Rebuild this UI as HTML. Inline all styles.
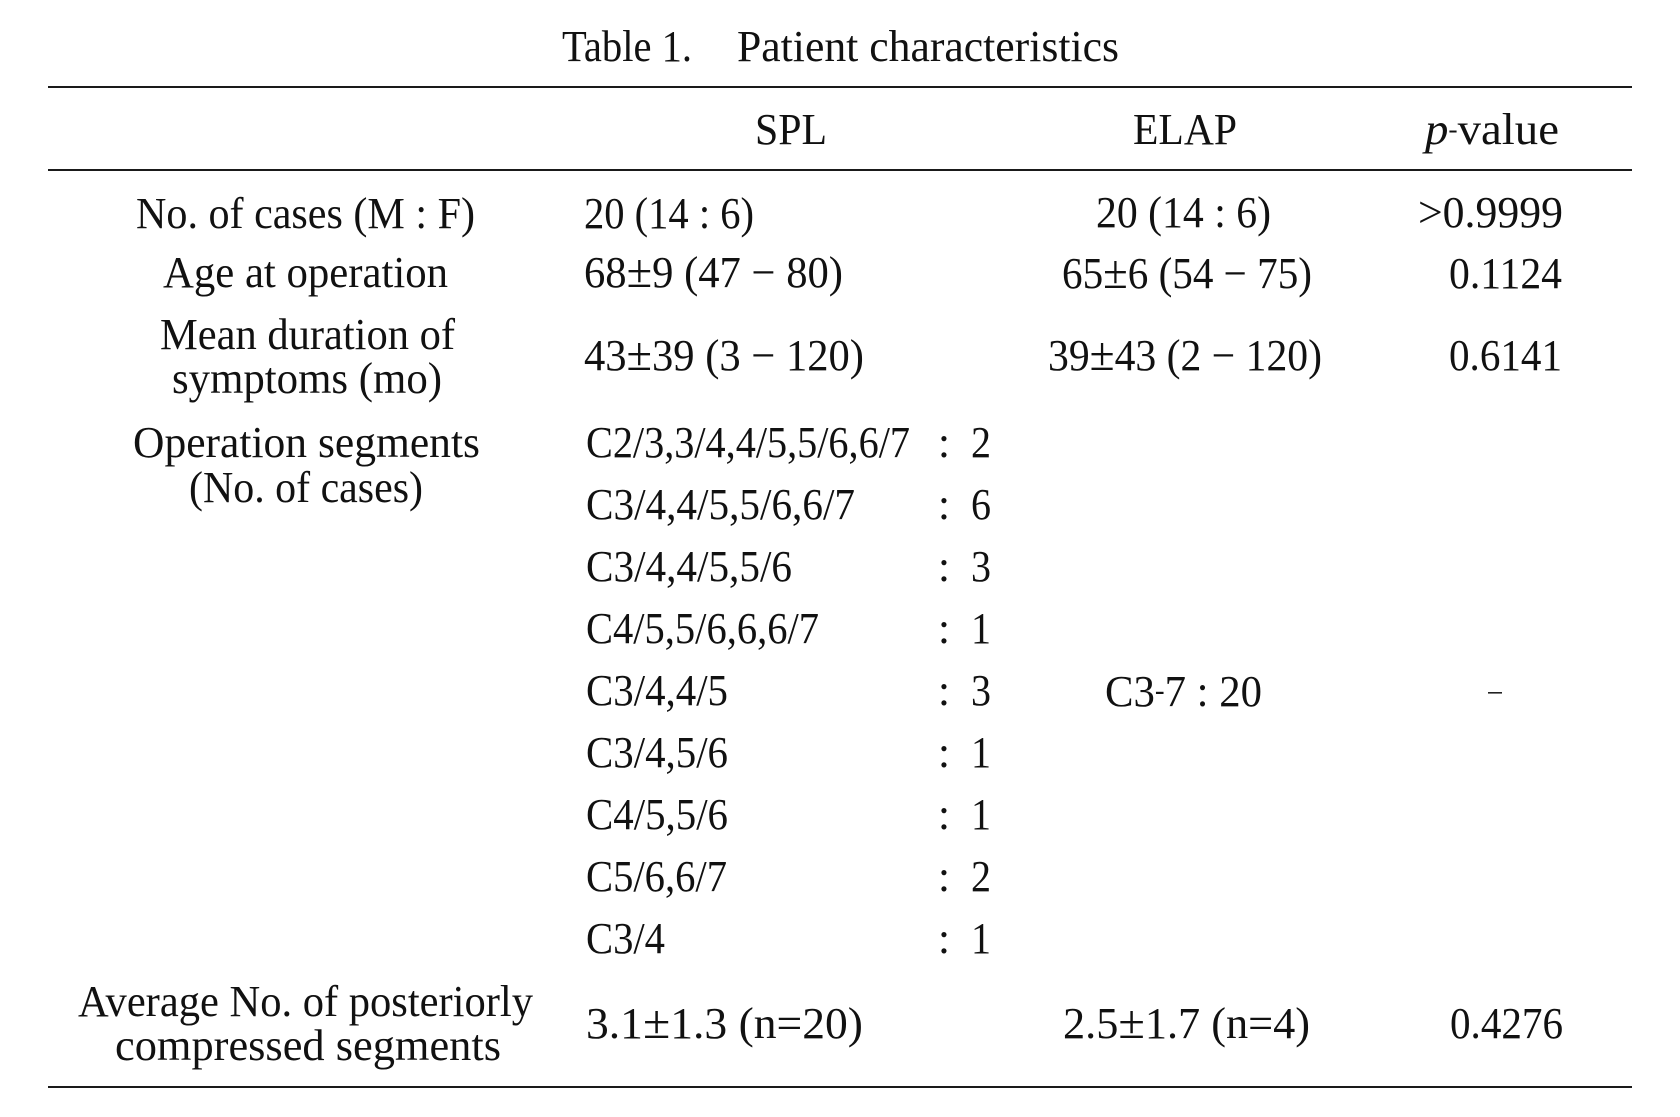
<!DOCTYPE html>
<html>
<head>
<meta charset="utf-8">
<style>
html,body{margin:0;padding:0;background:#fff;}
body{width:1680px;height:1117px;overflow:hidden;}
svg{display:block;}
text{font-family:"Liberation Serif","DejaVu Serif",serif;font-size:44px;fill:#111;}
.pm{font-size:48px;}
</style>
</head>
<body>
<svg width="1680" height="1117" viewBox="0 0 1680 1117" xmlns="http://www.w3.org/2000/svg">
<rect x="0" y="0" width="1680" height="1117" fill="#fff"/>

<!-- Title -->
<text x="562" y="61" textLength="130" lengthAdjust="spacingAndGlyphs">Table 1.</text>
<text x="737" y="61" textLength="382" lengthAdjust="spacingAndGlyphs">Patient characteristics</text>

<!-- Rules -->
<rect x="48" y="86" width="1584" height="2" fill="#1a1a1a"/>
<rect x="48" y="169" width="1584" height="2" fill="#1a1a1a"/>
<rect x="48" y="1086" width="1584" height="2" fill="#1a1a1a"/>

<!-- Header -->
<text x="755" y="144" textLength="72" lengthAdjust="spacingAndGlyphs">SPL</text>
<text x="1133" y="144" textLength="104" lengthAdjust="spacingAndGlyphs">ELAP</text>
<text x="1425" y="144" textLength="134" lengthAdjust="spacingAndGlyphs"><tspan font-style="italic">p</tspan><tspan font-size="26" dy="-6">‐</tspan><tspan dy="6">value</tspan></text>

<!-- Column 1 labels -->
<text x="136" y="228" textLength="339" lengthAdjust="spacingAndGlyphs">No. of cases (M : F)</text>
<text x="163" y="287" textLength="285" lengthAdjust="spacingAndGlyphs">Age at operation</text>
<text x="160" y="349" textLength="295" lengthAdjust="spacingAndGlyphs">Mean duration of</text>
<text x="172" y="393" textLength="270" lengthAdjust="spacingAndGlyphs">symptoms (mo)</text>
<text x="133" y="457" textLength="347" lengthAdjust="spacingAndGlyphs">Operation segments</text>
<text x="189" y="502" textLength="234" lengthAdjust="spacingAndGlyphs">(No. of cases)</text>
<text x="78" y="1016" textLength="455" lengthAdjust="spacingAndGlyphs">Average No. of posteriorly</text>
<text x="115" y="1060" textLength="386" lengthAdjust="spacingAndGlyphs">compressed segments</text>

<!-- Column 2 (SPL) -->
<text x="584" y="228" textLength="170" lengthAdjust="spacingAndGlyphs">20 (14 : 6)</text>
<text x="584" y="287" textLength="259" lengthAdjust="spacingAndGlyphs">68<tspan class="pm">±</tspan>9 (47 − 80)</text>
<text x="584" y="370" textLength="280" lengthAdjust="spacingAndGlyphs">43<tspan class="pm">±</tspan>39 (3 − 120)</text>

<text x="586" y="457" textLength="324" lengthAdjust="spacingAndGlyphs">C2/3,3/4,4/5,5/6,6/7</text>
<text x="586" y="519" textLength="269" lengthAdjust="spacingAndGlyphs">C3/4,4/5,5/6,6/7</text>
<text x="586" y="581" textLength="206" lengthAdjust="spacingAndGlyphs">C3/4,4/5,5/6</text>
<text x="586" y="643" textLength="233" lengthAdjust="spacingAndGlyphs">C4/5,5/6,6,6/7</text>
<text x="586" y="705" textLength="142" lengthAdjust="spacingAndGlyphs">C3/4,4/5</text>
<text x="586" y="767" textLength="142" lengthAdjust="spacingAndGlyphs">C3/4,5/6</text>
<text x="586" y="829" textLength="142" lengthAdjust="spacingAndGlyphs">C4/5,5/6</text>
<text x="586" y="891" textLength="141" lengthAdjust="spacingAndGlyphs">C5/6,6/7</text>
<text x="586" y="953" textLength="79" lengthAdjust="spacingAndGlyphs">C3/4</text>

<text x="944" y="457" text-anchor="middle">:</text>
<text x="944" y="519" text-anchor="middle">:</text>
<text x="944" y="581" text-anchor="middle">:</text>
<text x="944" y="643" text-anchor="middle">:</text>
<text x="944" y="705" text-anchor="middle">:</text>
<text x="944" y="767" text-anchor="middle">:</text>
<text x="944" y="829" text-anchor="middle">:</text>
<text x="944" y="891" text-anchor="middle">:</text>
<text x="944" y="953" text-anchor="middle">:</text>

<text x="971" y="457" textLength="20" lengthAdjust="spacingAndGlyphs">2</text>
<text x="971" y="519" textLength="20" lengthAdjust="spacingAndGlyphs">6</text>
<text x="971" y="581" textLength="20" lengthAdjust="spacingAndGlyphs">3</text>
<text x="971" y="643" textLength="20" lengthAdjust="spacingAndGlyphs">1</text>
<text x="971" y="705" textLength="20" lengthAdjust="spacingAndGlyphs">3</text>
<text x="971" y="767" textLength="20" lengthAdjust="spacingAndGlyphs">1</text>
<text x="971" y="829" textLength="20" lengthAdjust="spacingAndGlyphs">1</text>
<text x="971" y="891" textLength="20" lengthAdjust="spacingAndGlyphs">2</text>
<text x="971" y="953" textLength="20" lengthAdjust="spacingAndGlyphs">1</text>

<text x="586" y="1038" textLength="277" lengthAdjust="spacingAndGlyphs">3.1<tspan class="pm">±</tspan>1.3 (n=20)</text>

<!-- Column 3 (ELAP) -->
<text x="1096" y="227" textLength="175" lengthAdjust="spacingAndGlyphs">20 (14 : 6)</text>
<text x="1062" y="288" textLength="250" lengthAdjust="spacingAndGlyphs">65<tspan class="pm">±</tspan>6 (54 − 75)</text>
<text x="1048" y="370" textLength="274" lengthAdjust="spacingAndGlyphs">39<tspan class="pm">±</tspan>43 (2 − 120)</text>
<text x="1105" y="706" textLength="157" lengthAdjust="spacingAndGlyphs">C3<tspan font-size="30" dy="-6">‐</tspan><tspan dy="6">7 : 20</tspan></text>
<text x="1063" y="1038" textLength="247" lengthAdjust="spacingAndGlyphs">2.5<tspan class="pm">±</tspan>1.7 (n=4)</text>

<!-- Column 4 (p-value) -->
<text x="1418" y="227" textLength="145" lengthAdjust="spacingAndGlyphs">&gt;0.9999</text>
<text x="1449" y="288" textLength="113" lengthAdjust="spacingAndGlyphs">0.1124</text>
<text x="1449" y="370" textLength="113" lengthAdjust="spacingAndGlyphs">0.6141</text>
<rect x="1488" y="692" width="14" height="1.6" fill="#222"/>
<text x="1450" y="1038" textLength="113" lengthAdjust="spacingAndGlyphs">0.4276</text>
</svg>
</body>
</html>
